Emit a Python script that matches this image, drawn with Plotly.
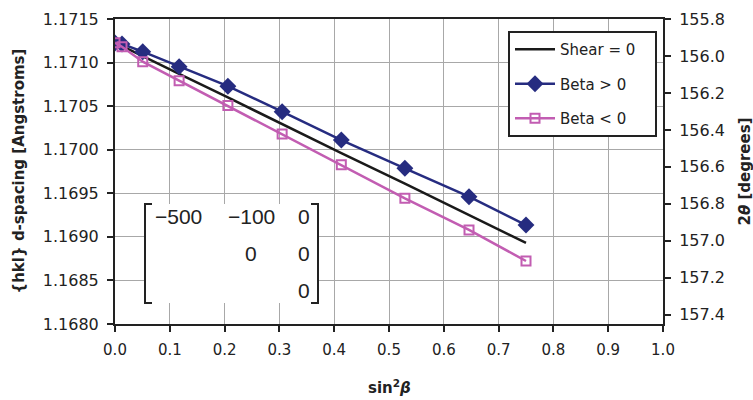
import plotly.graph_objects as go

# ---- data ----
sin2_beta = [0.0, 0.0128, 0.0506, 0.117, 0.206, 0.305, 0.413, 0.529, 0.646, 0.75]
shear_zero = [1.17123, 1.17119, 1.17107, 1.17087, 1.17060, 1.17029, 1.16996, 1.16961, 1.16925, 1.16893]
beta_pos = [1.171225, 1.171213, 1.171125, 1.170953, 1.170729, 1.170436, 1.170111, 1.169787, 1.169461, 1.169136]
beta_neg = [1.171228, 1.171182, 1.171010, 1.170792, 1.170507, 1.170180, 1.169828, 1.169442, 1.169079, 1.168723]

x_ticks = [round(0.1 * i, 1) for i in range(11)]
d_ticks = [1.1680, 1.1685, 1.1690, 1.1695, 1.1700, 1.1705, 1.1710, 1.1715]
tt_ticks = [155.8, 156.0, 156.2, 156.4, 156.6, 156.8, 157.0, 157.2, 157.4]

matrix_rows = [["\u2212500", "\u2212100", "0"], ["", "0", "0"], ["", "", "0"]]
series_names = ["Shear = 0", "Beta > 0", "Beta < 0"]
x_title = "<b>sin<sup>2</sup><i>β</i></b>"
y_title = "<b>{hkl} d-spacing [Angstroms]</b>"
y2_title = "<b>2<i>θ</i> [degrees]</b>"

# ---- geometry (pixels) ----
W, H = 753, 400
L, R, T, B = 115, 663, 19, 324

def px(x):
    return (x - L) / (R - L)

def py(y):
    return (B - y) / (B - T)

FONT = "DejaVu Sans"
INK = "#222222"
BLUE = "#262C80"
PINK = "#C25DB2"
PAD = "\u00a0" * 3

fig = go.Figure()
fig.add_trace(go.Scatter(x=sin2_beta, y=shear_zero, mode="lines", name=series_names[0] + PAD,
                         line=dict(color="#1a1a1a", width=2.5), legendgroup="a"))
fig.add_trace(go.Scatter(x=sin2_beta, y=beta_pos, mode="lines+markers", name=series_names[1] + PAD,
                         line=dict(color=BLUE, width=2.5),
                         marker=dict(symbol="diamond", size=13, color=BLUE), legendgroup="b"))
fig.add_trace(go.Scatter(x=sin2_beta, y=beta_neg, mode="lines+markers", name=series_names[2] + PAD,
                         line=dict(color=PINK, width=2.5),
                         marker=dict(symbol="square-open", size=9, color=PINK, line=dict(width=2)),
                         legendgroup="c"))
fig.add_trace(go.Scatter(x=[0.5], y=[156.5], yaxis="y2", mode="markers", showlegend=False,
                         hoverinfo="skip", marker=dict(opacity=0)))

# matrix box (white background hides gridlines) + brackets
top, bot = 204, 303
lx, rx, serif = 145, 318, 7
fig.add_shape(type="rect", xref="paper", yref="paper", layer="above",
              x0=px(lx), x1=px(rx), y0=py(bot), y1=py(top),
              fillcolor="white", line=dict(width=0))
fig.add_shape(type="path", xref="paper", yref="paper", layer="above",
              path=f"M {px(lx+serif)} {py(top)} L {px(lx)} {py(top)} L {px(lx)} {py(bot)} L {px(lx+serif)} {py(bot)}",
              line=dict(color=INK, width=2))
fig.add_shape(type="path", xref="paper", yref="paper", layer="above",
              path=f"M {px(rx-serif)} {py(top)} L {px(rx)} {py(top)} L {px(rx)} {py(bot)} L {px(rx-serif)} {py(bot)}",
              line=dict(color=INK, width=2))
col_x = [178, 251, 304]
row_y = [217, 253, 290]
for r, row in enumerate(matrix_rows):
    for c, txt in enumerate(row):
        if txt:
            fig.add_annotation(x=px(col_x[c]), y=py(row_y[r]), xref="paper", yref="paper",
                               text=txt, showarrow=False, xanchor="center", yanchor="middle",
                               font=dict(family="Liberation Sans", size=21, color=INK))

# axis titles
fig.add_annotation(x=px(18), y=py((T + B) / 2), xref="paper", yref="paper", text=y_title,
                   textangle=-90, showarrow=False, xanchor="center", yanchor="middle",
                   font=dict(family=FONT, size=15, color=INK))
fig.add_annotation(x=px(744), y=py((T + B) / 2), xref="paper", yref="paper", text=y2_title,
                   textangle=-90, showarrow=False, xanchor="center", yanchor="middle",
                   font=dict(family=FONT, size=15, color=INK))
fig.add_annotation(x=px((L + R) / 2), y=py(387), xref="paper", yref="paper", text=x_title,
                   showarrow=False, xanchor="center", yanchor="middle",
                   font=dict(family=FONT, size=15, color=INK))

axis_common = dict(showline=True, linecolor=INK, linewidth=2,
                   ticks="outside", ticklen=6, tickcolor=INK, tickwidth=2,
                   zeroline=False, automargin=False, ticklabelstandoff=5)

fig.update_layout(
    width=W, height=H,
    margin=dict(l=L, r=W - R, t=T, b=H - B, autoexpand=False),
    paper_bgcolor="white", plot_bgcolor="white",
    font=dict(family=FONT, size=15, color=INK),
    showlegend=True,
    legend=dict(x=px(508), y=py(31), xanchor="left", yanchor="top",
                bgcolor="white", bordercolor=INK, borderwidth=2,
                font=dict(family=FONT, size=15, color=INK),
                tracegroupgap=12, itemwidth=40),
    xaxis=dict(range=[0, 1], tickvals=x_ticks, ticktext=[f"{v:.1f}" for v in x_ticks],
               showgrid=True, gridcolor="#A8A8A8", gridwidth=1, mirror=True,
               tickfont=dict(size=15), **axis_common),
    yaxis=dict(range=[1.1680, 1.1715], tickvals=d_ticks, ticktext=[f"{v:.4f}" for v in d_ticks],
               showgrid=True, gridcolor="#A8A8A8", gridwidth=1,
               tickfont=dict(size=16), **axis_common),
    yaxis2=dict(overlaying="y", side="right", range=[157.45, 155.8],
                tickvals=tt_ticks, ticktext=[f"{v:.1f}" for v in tt_ticks],
                showgrid=False, tickfont=dict(size=16), **axis_common),
)

fig.write_html("out.html", config={"displayModeBar": False},
               post_script="document.body.style.margin='0px';")
